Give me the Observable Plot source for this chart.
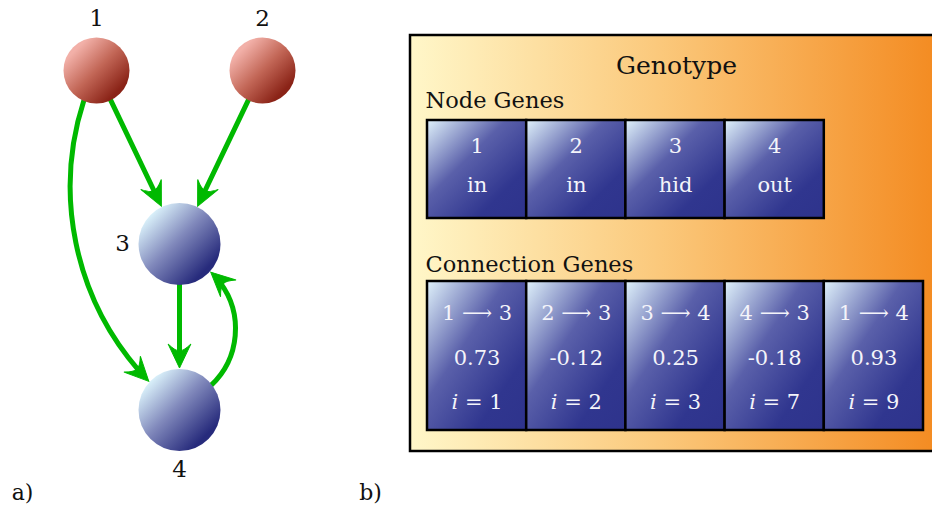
<!DOCTYPE html>
<html><head><meta charset="utf-8">
<script src="https://cdn.jsdelivr.net/npm/d3@7"></script>
<script src="https://cdn.jsdelivr.net/npm/@observablehq/plot@0.6"></script>
<style>html,body{margin:0;padding:0;background:#fff}svg{display:block}</style>
</head><body><div id="chart"></div>
<script>
// ---- data ----
const nodeIds = [1, 2, 3, 4];
const nodeTypes = ["in", "in", "hid", "out"];
const connFrom = [1, 2, 3, 4, 1];
const connTo = [3, 3, 4, 3, 4];
const connWeights = ["0.73", "-0.12", "0.25", "-0.18", "0.93"];
const connInnov = [1, 2, 3, 7, 9];
const panelLabels = ["a)", "b)"];
const titles = ["Genotype", "Node Genes", "Connection Genes"];

// ---- layout (diagram geometry) ----
const W = 932, H = 506;
const nodeX = {1: 96, 2: 262, 3: 179, 4: 179};
const nodeY = {1: 70, 2: 70, 3: 243.5, 4: 409.5};
const nodeR = {in: 33, hid: 41, out: 41};
const labelAngle = {1: 90, 2: 90, 3: 180, 4: 270};
const edgeOut = {"1-4": 247, "4-3": 38};
const edgeIn = {"1-4": 137, "4-3": 318};
const edgeBend = {"1-4": -31, "4-3": -47};

const rad = d => d * Math.PI / 180, deg = r => r * 180 / Math.PI;
const nodes = nodeIds.map((id, i) => ({id, type: nodeTypes[i], x: nodeX[id], y: nodeY[id], r: nodeR[nodeTypes[i]]}));
const byId = Object.fromEntries(nodes.map(n => [n.id, n]));

const labels = nodes.map(n => {
  const a = rad(labelAngle[n.id]);
  const d = n.r + (labelAngle[n.id] === 180 ? 16 : 19);
  return {text: String(n.id), x: n.x + d * Math.cos(a), y: n.y - d * Math.sin(a)};
});

const edges = connFrom.map((f, i) => {
  const t = connTo[i], key = `${f}-${t}`;
  const s = byId[f], e = byId[t];
  let ao, ai;
  if (edgeOut[key] !== undefined) { ao = rad(edgeOut[key]); ai = rad(edgeIn[key]); }
  else { ao = Math.atan2(-(e.y - s.y), e.x - s.x); ai = ao + Math.PI; }
  const x1 = s.x + (s.r - 1) * Math.cos(ao), y1 = s.y - (s.r - 1) * Math.sin(ao);
  const x2 = e.x + (e.r + 1) * Math.cos(ai), y2 = e.y - (e.r + 1) * Math.sin(ai);
  const bend = edgeBend[key] || 0;
  const phi = deg(Math.atan2(y2 - y1, x2 - x1));
  const endDir = phi + bend;
  return {x1, y1, x2, y2, bend, rot: endDir + 90};
});

// filled "stealth" arrowhead; tip at origin, pointing up before rotation
const stealth = {
  draw(context, size) {
    const r = Math.sqrt(size / Math.PI);
    const L = 2.0 * r, w = 0.95 * r, n = 0.72 * L;
    context.moveTo(0, 0);
    context.lineTo(w, L);
    context.quadraticCurveTo(w * 0.3, n * 0.95, 0, n);
    context.quadraticCurveTo(-w * 0.3, n * 0.95, -w, L);
    context.closePath();
  }
};

const panel = {x1: 410, y1: 35, x2: 960, y2: 451};
const geneW = 99.2, geneX0 = 427;
const nodeRowY = [120, 218], connRowY = [281, 430];
const nodeGenes = nodeIds.map((id, i) => ({i, id, type: nodeTypes[i], x1: geneX0 + i * geneW, x2: geneX0 + (i + 1) * geneW}));
const connGenes = connFrom.map((f, i) => ({i, label: `${f} \u27F6 ${connTo[i]}`, w: connWeights[i], inn: `i = ${connInnov[i]}`, x1: geneX0 + i * geneW, x2: geneX0 + (i + 1) * geneW}));
const cx = d => (d.x1 + d.x2) / 2;

const green = "#00b900";
const white = "#f4f4fa";
const FS = 21;

const italicI = (index, scales, values, dims, ctx, next) => {
  const g = next(index, scales, values, dims, ctx);
  d3.select(g).selectAll("text").each(function () {
    const t = this.textContent;
    const sel = d3.select(this); sel.text(null);
    sel.append("tspan").attr("font-style", "italic").text("i");
    sel.append("tspan").text(t.slice(1));
  });
  return g;
};

const plot = Plot.plot({
  width: W, height: H, margin: 0,
  x: {domain: [0, W], range: [0, W], axis: null},
  y: {domain: [0, H], range: [0, H], axis: null},
  style: {fontFamily: "'DejaVu Serif', serif", background: "#fff", overflow: "hidden"},
  marks: [
    Plot.rect([panel], {x1: "x1", x2: "x2", y1: "y1", y2: "y2", fill: "url(#orangeGrad)", stroke: "#000", strokeWidth: 2.5}),
    Plot.text([titles[0]], {x: 676, y: 65, text: d => d, fontSize: 25, fill: "#111"}),
    Plot.text([titles[1]], {x: 425, y: 100, text: d => d, fontSize: 22.5, textAnchor: "start", fill: "#111"}),
    Plot.text([titles[2]], {x: 425, y: 264, text: d => d, fontSize: 22.5, textAnchor: "start", fill: "#111"}),
    Plot.rect(nodeGenes, {x1: "x1", x2: "x2", y1: nodeRowY[0], y2: nodeRowY[1], fill: "url(#boxGrad)", stroke: "#000", strokeWidth: 2.5}),
    Plot.text(nodeGenes, {x: cx, y: 146, text: d => String(d.id), fontSize: FS, fill: white}),
    Plot.text(nodeGenes, {x: cx, y: 185, text: "type", fontSize: FS, fill: white}),
    Plot.rect(connGenes, {x1: "x1", x2: "x2", y1: connRowY[0], y2: connRowY[1], fill: "url(#boxGrad)", stroke: "#000", strokeWidth: 2.5}),
    Plot.text(connGenes, {x: cx, y: 313, text: "label", fontSize: FS, fill: white}),
    Plot.text(connGenes, {x: cx, y: 358, text: "w", fontSize: FS, fill: white}),
    Plot.text(connGenes, {x: cx, y: 402, text: "inn", fontSize: FS, fill: white, render: italicI}),
    ...edges.map(e => Plot.arrow([e], {x1: "x1", y1: "y1", x2: "x2", y2: "y2", bend: e.bend, insetEnd: 14, headLength: 0, stroke: green, strokeWidth: 5})),
    Plot.dot(edges, {x: "x2", y: "y2", rotate: "rot", symbol: stealth, r: 12, fill: green, stroke: green, strokeWidth: 1, strokeLinejoin: "miter"}),
    Plot.dot(nodes.filter(n => n.type === "in"), {x: "x", y: "y", r: nodeR.in, fill: "url(#redBall)", stroke: null}),
    Plot.dot(nodes.filter(n => n.type !== "in"), {x: "x", y: "y", r: nodeR.hid, fill: "url(#blueBall)", stroke: null}),
    Plot.text(labels, {x: "x", y: "y", text: "text", fontSize: 23, fill: "#111"}),
    Plot.text(panelLabels, {x: [22, 370], y: [492, 492], text: d => d, fontSize: 22, fill: "#111"})
  ]
});

const defs = d3.select(plot).insert("defs", ":first-child");
function grad(id, stops, x1 = 0, y1 = 0, x2 = 1, y2 = 1) {
  const g = defs.append("linearGradient").attr("id", id).attr("x1", x1).attr("y1", y1).attr("x2", x2).attr("y2", y2);
  stops.forEach(([o, c]) => g.append("stop").attr("offset", o).attr("stop-color", c));
}
grad("orangeGrad", [[0, "#fff7c9"], [0.45, "#fbc97c"], [1, "#f3861a"]], 0, 0, 1, 0);
grad("redBall", [[0.05, "#f2b0a8"], [0.5, "#c26656"], [0.95, "#8a2317"]], 0.15, 0.15, 0.85, 0.85);
grad("blueBall", [[0.0, "#d8eff9"], [0.45, "#8088bb"], [0.95, "#272b7c"]], 0.15, 0.15, 0.85, 0.85);
grad("boxGrad", [[0, "#e0f2fb"], [0.4, "#5a60aa"], [0.75, "#30368f"], [1, "#2e338c"]]);

document.getElementById("chart").append(plot);
</script></body></html>
